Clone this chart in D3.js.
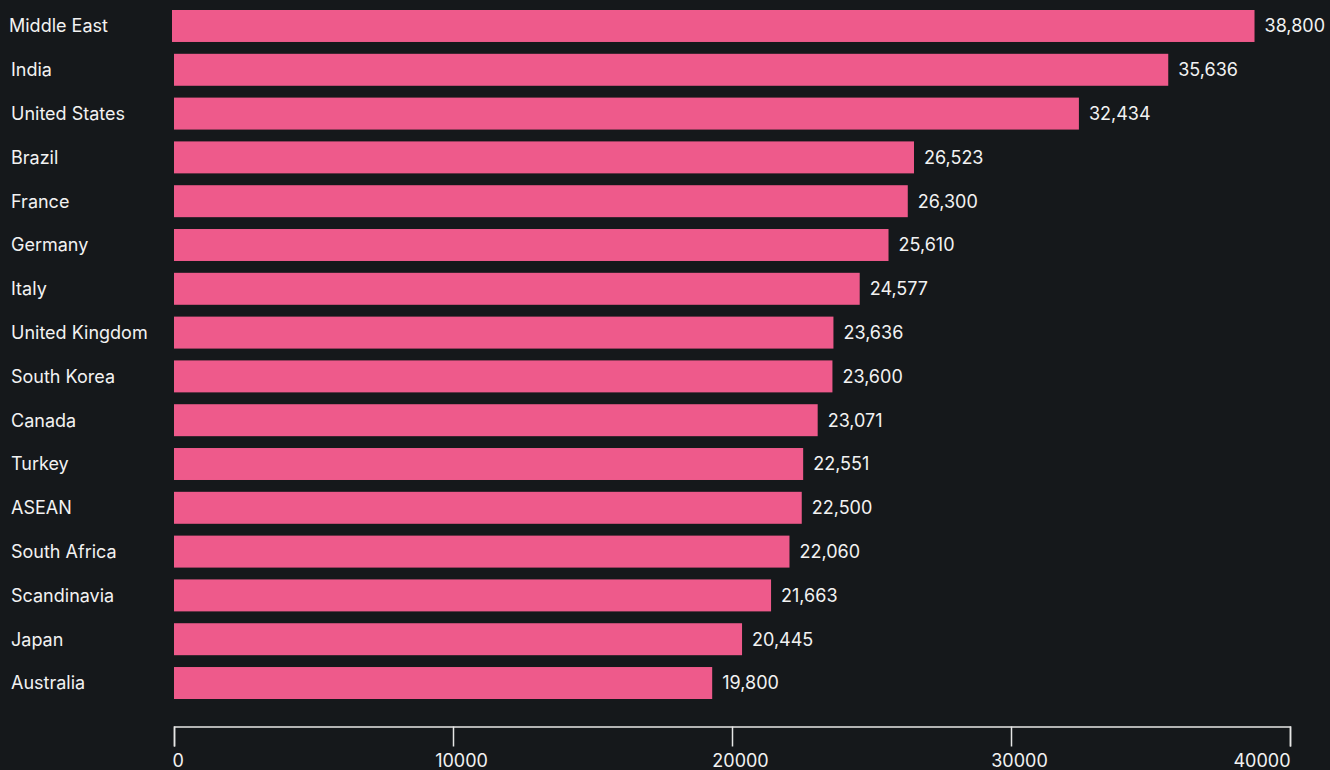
<!DOCTYPE html>
<html>
<head>
<meta charset="utf-8">
<script src="https://cdn.jsdelivr.net/npm/d3@7"></script>
<style>
  html, body { margin: 0; padding: 0; background: #15181b; }
  svg { display: block; }
  text { font-family: Inter, "Noto Sans", sans-serif; fill: #f2f2f2; }
</style>
</head>
<body>
<svg id="chart" width="1330" height="770"></svg>
<script>
var categories = ['Middle East', 'India', 'United States', 'Brazil', 'France', 'Germany', 'Italy',
    'United Kingdom', 'South Korea', 'Canada', 'Turkey', 'ASEAN', 'South Africa', 'Scandinavia',
    'Japan', 'Australia'];
// bar lengths as drawn in the picture
var values = [38800, 35636, 32434, 26523, 26300, 25610, 24577, 23636, 23600, 23071, 22551, 22500,
    22060, 21400, 20360, 19290];
// printed value labels
var valueLabels = ['38,800', '35,636', '32,434', '26,523', '26,300', '25,610', '24,577', '23,636',
    '23,600', '23,071', '22,551', '22,500', '22,060', '21,663', '20,445', '19,800'];
var tickValues = [0, 10000, 20000, 30000, 40000];

var data = categories.map(function (c, i) {
    return {name: c, value: values[i], label: valueLabels[i]};
});

var svg = d3.select('#chart');

var x = d3.scaleLinear().domain([0, 40000]).range([174, 1290]);
var y = d3.scaleBand().domain(categories).range([10, 699]).paddingInner(0.27).paddingOuter(0);

var rows = svg.append('g').selectAll('g.row')
    .data(data)
    .enter().append('g')
    .attr('class', 'row')
    .attr('transform', function (d, i) { return i === 0 ? 'translate(-2,0)' : null; });

rows.append('rect')
    .attr('class', 'bar')
    .attr('x', x(0))
    .attr('y', function (d) { return y(d.name); })
    .attr('width', function (d) { return x(d.value) - x(0); })
    .attr('height', y.bandwidth())
    .attr('fill', '#ee5a8b');

rows.append('text')
    .attr('class', 'cat')
    .attr('x', 11)
    .attr('y', function (d) { return y(d.name) + y.bandwidth() / 2; })
    .attr('dy', '0.36em')
    .style('font-size', '18px')
    .text(function (d) { return d.name; });

rows.append('text')
    .attr('class', 'val')
    .attr('x', function (d) { return x(d.value) + 10; })
    .attr('y', function (d) { return y(d.name) + y.bandwidth() / 2; })
    .attr('dy', '0.36em')
    .style('font-size', '18px')
    .text(function (d) { return d.label; });

// x axis
var axis = d3.axisBottom(x)
    .tickValues(tickValues)
    .tickFormat(d3.format('d'))
    .tickSize(20)
    .tickSizeOuter(20)
    .tickPadding(8);

var gx = svg.append('g')
    .attr('class', 'x-axis')
    .attr('transform', 'translate(0,726.5)')
    .call(axis);

gx.select('.domain').attr('stroke', '#e6e6e6').attr('stroke-width', 1.5);
gx.selectAll('.tick line').attr('stroke', '#e6e6e6').attr('stroke-width', 1.5);
gx.selectAll('.tick text')
    .attr('fill', '#f2f2f2')
    .style('font-size', '18px')
    .style('font-family', 'Inter, "Noto Sans", sans-serif')
    .attr('text-anchor', function (d, i) {
        if (i === 0) return 'start';
        if (i === tickValues.length - 1) return 'end';
        return 'middle';
    })
    .attr('dx', function (d, i) {
        if (i === 0) return -2;
        if (i === tickValues.length - 1) return 0;
        return 8;
    });
</script>
</body>
</html>
